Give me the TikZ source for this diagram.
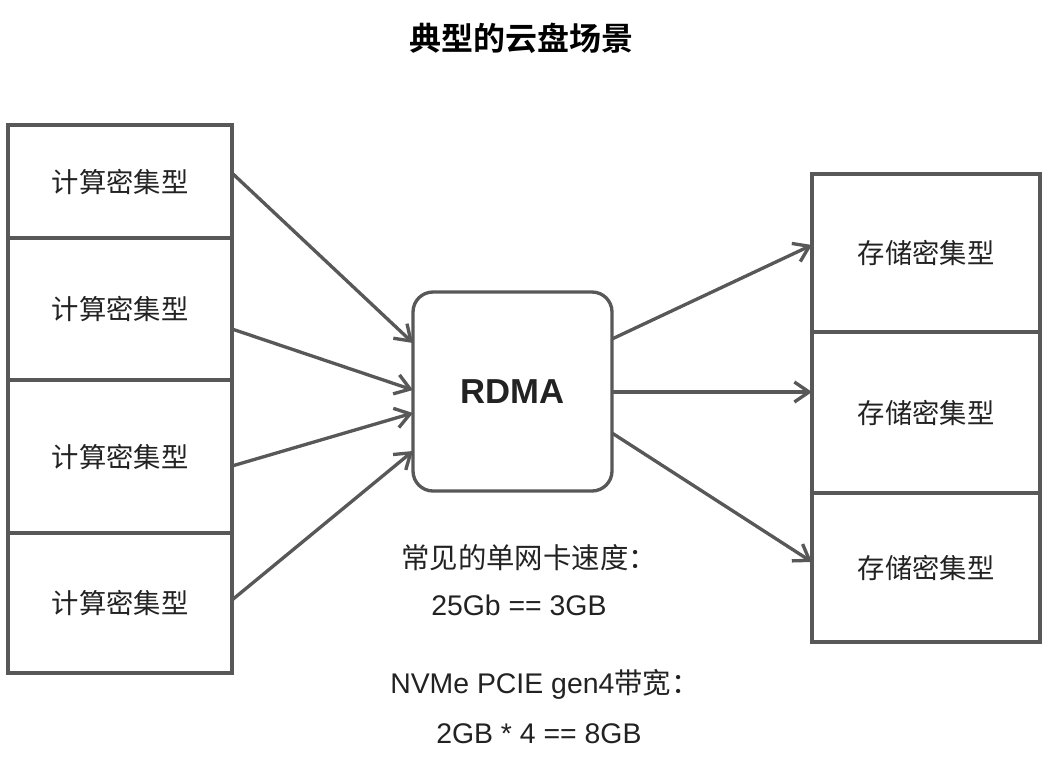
\documentclass[tikz,border=0pt]{standalone}
\usepackage{fontspec}
\setmainfont{Liberation Sans}
\newfontfamily\cjk{Noto Sans CJK SC}[BoldFont={Noto Sans CJK SC Bold}]
\usepackage{xcolor}
\definecolor{lgray}{RGB}{88,88,88}
\definecolor{dtext}{RGB}{34,34,34}
\usetikzlibrary{arrows.meta,positioning}
\newlength\px
\setlength\px{0.75pt}

\begin{document}
\begin{tikzpicture}[
  x=0.75pt, y=-0.75pt,
  cbox/.style={rectangle,draw=lgray,line width=2.5pt,outer sep=0pt,minimum width=224\px,text=dtext,font=\cjk\fontsize{20.5}{24}\selectfont},
  sbox/.style={cbox,minimum width=228\px},
  rbox/.style={rectangle,draw=lgray,line width=2.5pt,outer sep=0pt,rounded corners=15pt,minimum width=199\px,minimum height=199\px,text=dtext,font=\bfseries\fontsize{26}{30}\selectfont},
  note/.style={anchor=base west,inner sep=0pt,text=dtext,font=\fontsize{21.3}{24}\selectfont},
  arrow/.style={-{Straight Barb[length=11pt,width=15pt]},line width=2.5pt,lgray}
]
  \useasboundingbox (0,0) rectangle (1046,764);
  \node[font=\cjk\bfseries\fontsize{24}{28}\selectfont] (title) at (521,38) {典型的云盘场景};

  % compute side
  \node[cbox,minimum height=113\px,anchor=north west] (c1) at (8,125) {计算密集型};
  \node[cbox,minimum height=142\px,below=0pt of c1] (c2) {计算密集型};
  \node[cbox,minimum height=153\px,below=0pt of c2] (c3) {计算密集型};
  \node[cbox,minimum height=140\px,below=0pt of c3] (c4) {计算密集型};

  \node[rbox] (rdma) at (512.5,391.5) {RDMA};

  % storage side
  \node[sbox,minimum height=158\px,anchor=north west] (s1) at (812,174) {存储密集型};
  \node[sbox,minimum height=161\px,below=0pt of s1] (s2) {存储密集型};
  \node[sbox,minimum height=149\px,below=0pt of s2] (s3) {存储密集型};

  \draw[arrow] (c1.east |- 0,173) -- (rdma.west |- 0,343);
  \draw[arrow] (c2.east |- 0,329) -- (rdma.west |- 0,390);
  \draw[arrow] (c3.east |- 0,466) -- (rdma.west |- 0,413);
  \draw[arrow] (c4.east |- 0,600) -- (rdma.west |- 0,451);

  \draw[arrow] (rdma.east |- 0,339) -- (s1.west |- 0,245);
  \draw[arrow] (rdma.east |- 0,392) -- (s2.west |- 0,392);
  \draw[arrow] (rdma.east |- 0,433) -- (s3.west |- 0,562);

  \node[note] (speed) at (401,568) {\cjk 常见的单网卡速度：};
  \node[note] (speedval) at (431,615) {25Gb == 3GB};
  \node[note] (nvme) at (390,693) {NVMe PCIE gen4{\cjk 带宽：}};
  \node[note] (nvmeval) at (436,743) {2GB * 4 == 8GB};
\end{tikzpicture}
\end{document}
